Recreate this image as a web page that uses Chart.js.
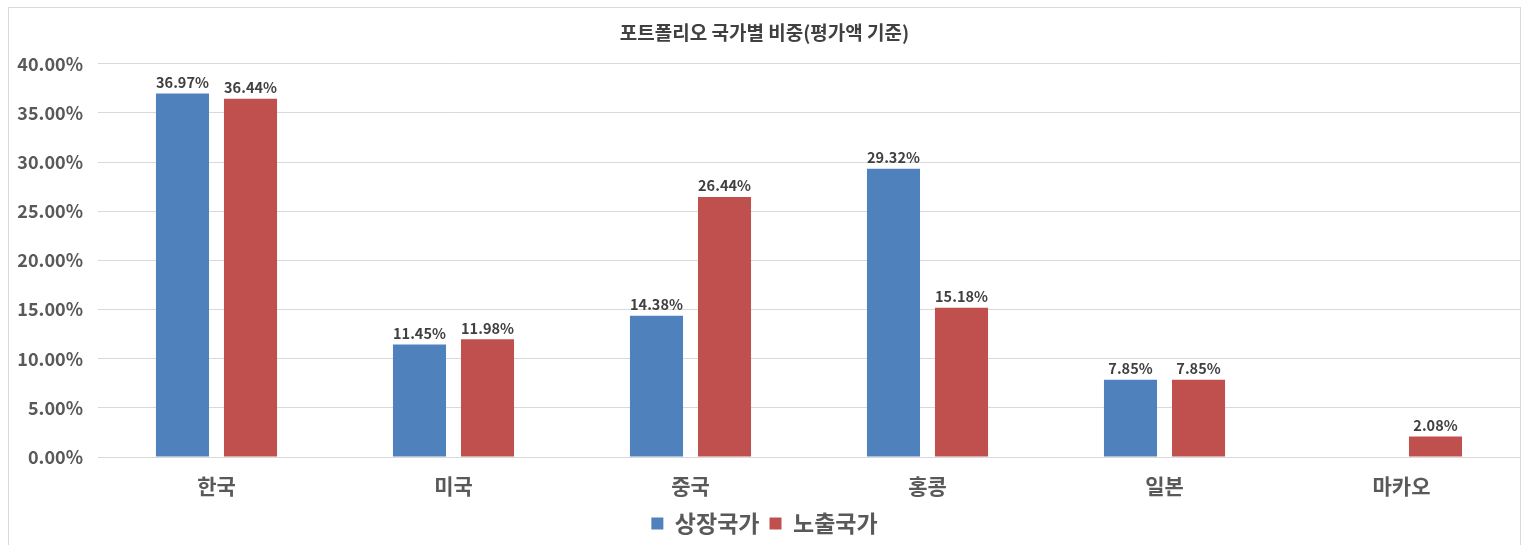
<!DOCTYPE html>
<html>
<head>
<meta charset="utf-8">
<script src="https://cdn.jsdelivr.net/npm/chart.js@4"></script>
<style>
  html, body { margin: 0; padding: 0; background: #fff; }
  .wrap { position: absolute; left: 8px; top: 7px; width: 1511px; height: 537px; border: 1px solid #d9d9d9; border-bottom: none; }
</style>
</head>
<body>
<div class="wrap"><canvas id="c"></canvas></div>
<script>
const CATEGORIES = ['한국', '미국', '중국', '홍콩', '일본', '마카오'];
const LISTED = [36.97, 11.45, 14.38, 29.32, 7.85, null];
const EXPOSED = [36.44, 11.98, 26.44, 15.18, 7.85, 2.08];
const Y_TICKS = { min: 0, max: 40, step: 5 };

const FONT = '"Noto Sans CJK KR", "Noto Sans", sans-serif';

// value labels over each bar
const barLabels = {
  id: 'barLabels',
  afterDatasetsDraw(chart) {
    const ctx = chart.ctx;
    ctx.save();
    ctx.font = 'bold 14.5px ' + FONT;
    ctx.fillStyle = '#404040';
    ctx.textAlign = 'center';
    ctx.textBaseline = 'bottom';
    chart.data.datasets.forEach((ds, i) => {
      chart.getDatasetMeta(i).data.forEach((bar, j) => {
        const v = ds.data[j];
        if (v == null) return;
        ctx.fillText(v.toFixed(2) + '%', bar.x, bar.y - 4);
      });
    });
    ctx.restore();
  }
};

new Chart(document.getElementById('c'), {
  type: 'bar',
  data: {
    labels: CATEGORIES,
    datasets: [
      { label: '상장국가', data: LISTED, backgroundColor: '#4F81BD' },
      { label: '노출국가', data: EXPOSED, backgroundColor: '#C0504D' }
    ]
  },
  options: {
    responsive: true,
    maintainAspectRatio: false,
    animation: false,
    categoryPercentage: 0.574,
    barPercentage: 0.78,
    layout: { padding: { left: 0, right: 0, top: 0, bottom: 0 } },
    plugins: {
      title: {
        display: true,
        text: '포트폴리오 국가별 비중(평가액 기준)',
        color: '#404040',
        font: { family: FONT, size: 19, weight: 'bold', lineHeight: 1.2 },
        padding: { top: 13, bottom: 20 }
      },
      legend: {
        position: 'bottom',
        labels: {
          color: '#595959',
          font: { family: FONT, size: 23, weight: 'bold' },
          boxWidth: 12, boxHeight: 12, padding: 10
        }
      },
      tooltip: { enabled: false }
    },
    scales: {
      x: {
        grid: { display: false },
        border: { display: false },
        ticks: { color: '#595959', font: { family: FONT, size: 21, weight: 'bold' }, padding: 8 },
        afterFit: s => { s.height = 45; }
      },
      y: {
        min: Y_TICKS.min, max: Y_TICKS.max,
        grid: { color: '#d9d9d9', drawTicks: false },
        border: { display: false },
        ticks: {
          stepSize: Y_TICKS.step,
          color: '#595959',
          font: { family: FONT, size: 18, weight: 'bold' },
          padding: 15,
          callback: v => v.toFixed(2) + '%'
        },
        afterFit: s => { s.width = 89; }
      }
    }
  },
  plugins: [barLabels]
});
</script>
</body>
</html>
